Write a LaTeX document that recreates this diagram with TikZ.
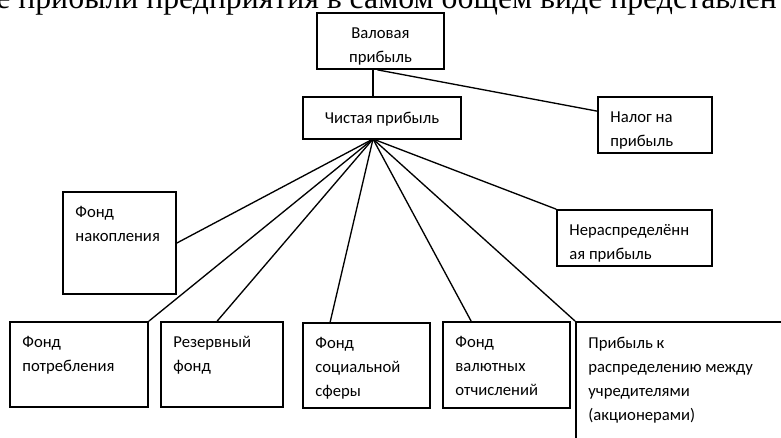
\documentclass[tikz,border=0pt]{standalone}
\usepackage{fontspec}
\setmainfont{Carlito}
\newfontfamily\headfont{Liberation Serif}
\usetikzlibrary{fit,calc}
\tikzset{
  box/.style={draw,line width=1.3pt,inner sep=0pt},
  txt/.style={anchor=north west,align=left,inner xsep=9.75pt,inner ysep=11.5pt,font=\fontsize{12.5}{18}\selectfont},
  ctxt/.style={txt,anchor=north,align=center,inner xsep=0pt},
  con/.style={line width=1pt},
}

\begin{document}
\begin{tikzpicture}[x=0.75pt,y=-0.75pt]
\useasboundingbox (0,0) rectangle (781,437);
\clip (0,0) rectangle (781,437);
\node[anchor=base west,inner sep=0pt,font=\headfont\fontsize{23.8}{28}\selectfont] (head) at (-4,8) {е прибыли предприятия в самом общем виде представлен};
% upper levels
\node[box,fit={(317,13)(444,69)},label={[ctxt]north:{Валовая\\прибыль}}] (val) {};
\node[box,fit={(303,97)(461,139)},label={[ctxt]north:{Чистая прибыль}}] (chist) {};
\node[box,fit={(598,97)(712,153)},label={[txt]north west:{Налог на\\прибыль}}] (nal) {};
\coordinate (hub) at (373,139);
% funds
\node[box,fit={(63,192)(176,294)},label={[txt]north west:{Фонд\\накопления}}] (nak) {};
\node[box,fit={(557,210)(712,266)},label={[txt]north west:{Нераспределённ\\ая прибыль}}] (neras) {};
\node[box,fit={(10,322)(148,407)},label={[txt]north west:{Фонд\\потребления}}] (potr) {};
\node[box,fit={(161,322)(283,407)},label={[txt]north west:{Резервный\\фонд}}] (rez) {};
\node[box,fit={(303,323)(430,408)},label={[txt]north west:{Фонд\\социальной\\сферы}}] (soc) {};
\node[box,fit={(443,322)(570,408)},label={[txt]north west:{Фонд\\валютных\\отчислений}}] (valut) {};
\node[box,fit={(576,322)(800,460)},label={[txt]north west:{Прибыль к\\распределению между\\учредителями\\(акционерами)}}] (prib) {};
% connectors
\draw[con] (val.south -| hub) -- (chist.north -| hub);
\draw[con] ($(val.south)+(-3,0)$) -- ($(nal.north west)+(0,15)$);
\draw[con] (hub) -- (nak.east);
\draw[con] (hub) -- (potr.north east);
\draw[con] (hub) -- ($(rez.north west)+(57,0)$);
\draw[con] (hub) -- ($(soc.north west)+(28,0)$);
\draw[con] (hub) -- ($(valut.north west)+(29,0)$);
\draw[con] (hub) -- (prib.north west);
\draw[con] (hub) -- (neras.north west);
\end{tikzpicture}
\end{document}
